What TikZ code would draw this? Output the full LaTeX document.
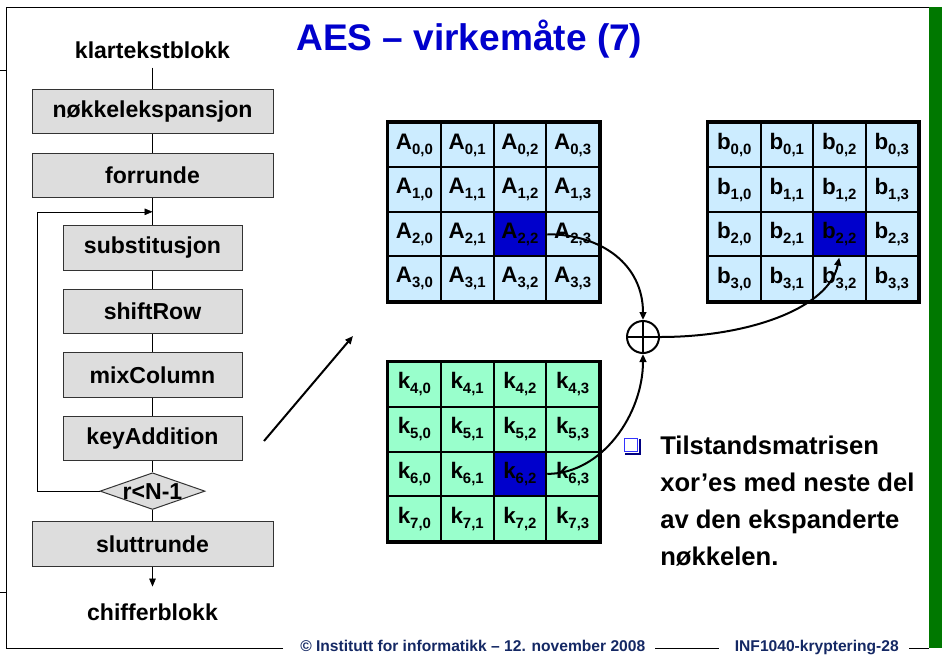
\documentclass[tikz,border=0pt]{standalone}
\usepackage{fontspec}
\setmainfont{Liberation Sans}
\usetikzlibrary{positioning,shapes.geometric,arrows.meta,calc}

\definecolor{titleblue}{RGB}{0,0,204}
\definecolor{cellblue}{RGB}{204,236,255}
\definecolor{cellgreen}{RGB}{153,255,204}
\definecolor{pick}{RGB}{0,0,204}
\definecolor{boxgray}{RGB}{221,221,221}
\definecolor{footblue}{RGB}{20,40,100}
\definecolor{bargreen}{RGB}{0,120,0}
\definecolor{bulletblue}{RGB}{51,51,255}
\definecolor{bulletnavy}{RGB}{0,0,128}

\newcommand{\entry}[2]{#1\raisebox{-3.75pt}{\fontsize{11.2}{12}\selectfont #2}}

\tikzset{
  wbox/.style={draw=black!80, fill=boxgray, line width=0.75pt,
    minimum width=180.75pt, minimum height=33.4pt, inner sep=0pt,
    font=\fontsize{17.3}{20}\selectfont\bfseries},
  nbox/.style={wbox, minimum width=134.25pt},
  test/.style={diamond, draw=black!80, fill=boxgray, line width=0.75pt,
    aspect=2.86, inner sep=0pt, font=\fontsize{17.3}{20}\selectfont\bfseries},
  ends/.style={inner sep=6.75pt, font=\fontsize{17.3}{20}\selectfont\bfseries},
  cell/.style={draw, line width=1.5pt, inner sep=0pt,
    font=\fontsize{16.8}{18}\selectfont\bfseries},
  footer/.style={inner sep=0pt, text=footblue, font=\fontsize{11.7}{13}\selectfont\bfseries},
}

\begin{document}
\begin{tikzpicture}[x=0.75pt,y=-0.75pt,>={Triangle[length=6pt,width=5pt]},font=\bfseries]
  \useasboundingbox (0,0) rectangle (942,654);

  % frame
  \fill[bargreen] (929,7) rectangle (942,648);
  \draw[line width=0.75pt] (6,7) -- (929,7);
  \draw[line width=0.75pt] (283,648) -- (6,648) -- (6,7);
  \draw[line width=0.75pt] (0,70) -- (6,70);
  \draw[line width=0.75pt] (0,592) -- (6,592);

  \node[anchor=base west, inner sep=0pt, text=titleblue,
    font=\fontsize{27.8}{30}\selectfont\bfseries] (title) at (296,50) {AES – virkemåte (7)};

  % flowchart
  \node[wbox] (expand) at (152.5,111.5) {nøkkelekspansjon};
  \node[ends, above=15.75pt of expand] (plain) {klartekstblokk};
  \node[wbox, below=14pt of expand] (pre) {forrunde};
  \node[nbox, below=20pt of pre] (sub) {substitusjon};
  \node[nbox, below=13.5pt of sub] (shift) {shiftRow};
  \node[nbox, below=13.5pt of shift] (mix) {mixColumn};
  \node[nbox, below=13.5pt of mix] (keyadd) {keyAddition};
  \node[test, below=8.25pt of keyadd] (check) {r<N-1};
  \node[wbox, below=8.25pt of check] (last) {sluttrunde};
  \node[ends, below=21pt of last] (cipher) {chifferblokk};

  \coordinate (join) at ($(pre.south)!0.5!(sub.north)$);

  \draw (plain) -- (expand);
  \draw (expand) -- (pre);
  \draw (pre) -- (sub);
  \draw (sub) -- (shift);
  \draw (shift) -- (mix);
  \draw (mix) -- (keyadd);
  \draw (keyadd) -- (check);
  \draw (check) -- (last);
  \draw [->, shorten >=6pt] (last) -- (cipher);
  \draw [->] (check.west) -- ++(-62,0) |- (join);

  \coordinate (tail) at (264,441);
  \coordinate (head) at (353,336);
  \draw [->, line width=1.5pt] (tail) -- (head);

  % state matrix
  \foreach \r in {0,...,3}
    \foreach \c in {0,...,3} {
      \def\hue{cellblue}\ifnum\r\c=22 \def\hue{pick}\fi
      \node[cell, fill=\hue, minimum width=39.56pt, minimum height=33.4pt]
        (A-\r-\c) at ({388+52.75*(\c+0.5)},{123+44.5*(\r+0.5)}) {\entry{A}{\r,\c}};
    }
  \draw[line width=2.25pt] (A-0-0.north west) rectangle (A-3-3.south east);

  % result matrix
  \foreach \r in {0,...,3}
    \foreach \c in {0,...,3} {
      \def\hue{cellblue}\ifnum\r\c=22 \def\hue{pick}\fi
      \node[cell, fill=\hue, minimum width=39.38pt, minimum height=33.4pt]
        (b-\r-\c) at ({708+52.5*(\c+0.5)},{123+44.5*(\r+0.5)}) {\entry{b}{\r,\c}};
    }
  \draw[line width=2.25pt] (b-0-0.north west) rectangle (b-3-3.south east);

  % round key
  \foreach \r [evaluate=\r as \kr using int(\r+4)] in {0,...,3}
    \foreach \c in {0,...,3} {
      \def\hue{cellgreen}\ifnum\r\c=22 \def\hue{pick}\fi
      \node[cell, fill=\hue, minimum width=39.56pt, minimum height=33.56pt]
        (k-\kr-\c) at ({388+52.75*(\c+0.5)},{362+44.75*(\r+0.5)}) {\entry{k}{\kr,\c}};
    }
  \draw[line width=2.25pt] (k-4-0.north west) rectangle (k-7-3.south east);

  % xor
  \node[circle, draw, line width=1.5pt, minimum size=24pt, inner sep=0pt] (xor) at (643,337) {};
  \draw[line width=1.5pt] (xor.north) -- (xor.south) (xor.west) -- (xor.east);

  \draw [->, line width=1.5pt] (A-2-2.east) .. controls +(55,0) and +(0,-55) .. (xor.north);
  \draw [->, line width=1.5pt] (k-6-2.east) .. controls +(55,0) and +(0,60) .. (xor.south);
  \draw [->, line width=1.5pt] (xor.east) .. controls +(90,0) and +(-10,50) .. (b-2-2.south);

  % bullet text
  \node[draw=bulletblue, line width=1.2pt, fill=white, minimum size=10pt, inner sep=0pt] (mark) at (631,445) {};
  \draw[bulletnavy, line width=1.2pt] ($(mark.north east)+(1.5,1.5)$) -- ($(mark.south east)+(1.5,1.5)$) -- ($(mark.south west)+(1.5,1.5)$);
  \node[anchor=north west, inner sep=0pt, align=left,
    font=\fontsize{19.2}{27.75}\selectfont\bfseries] (note) at (660,436)
    {Tilstandsmatrisen\\xor’es med neste del\\av den ekspanderte\\nøkkelen.};

  % footer
  \node[footer, anchor=base west] (copy) at (300,651) {© Institutt for informatikk – 12. november 2008};
  \node[footer, anchor=base east] (course) at (899,651) {INF1040-kryptering-28};
  \draw[line width=0.75pt] (655,648) -- (719,648);
  \draw[line width=0.75pt] (909,648) -- (929,648);

\end{tikzpicture}
\end{document}
